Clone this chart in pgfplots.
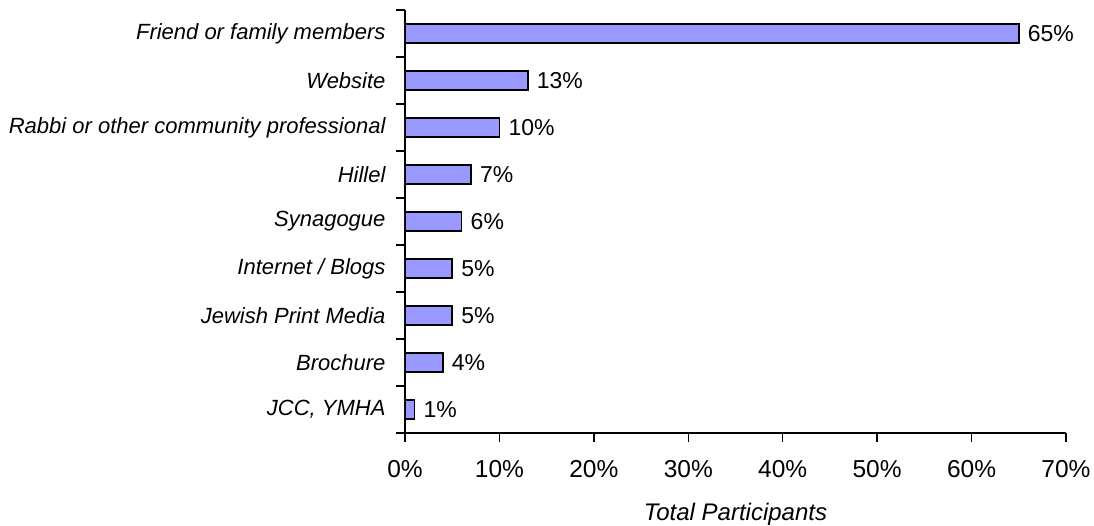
\documentclass[border=0pt]{standalone}
\usepackage{fontspec}
\setmainfont{Liberation Sans}
\usepackage{pgfplots}
\pgfplotsset{compat=1.18}
\definecolor{barblue}{HTML}{9999FF}
\begin{document}
\begin{tikzpicture}
\begin{axis}[
  scale only axis, width=661pt, height=423pt,
  xbar, bar width=19pt,
  xmin=0, xmax=70, ymin=-0.5, ymax=8.5,
  axis x line*=bottom, axis y line*=left,
  axis line style={line width=1.5pt, -},
  tick align=outside,
  major tick length=9pt,
  tick style={line width=1.5pt, black},
  xtick={0,10,...,70},
  xticklabel={\pgfmathprintnumber{\tick}\%},
  /pgf/number format/assume math mode=true,
  xticklabel style={font=\fontsize{24.5}{28}\selectfont, yshift=-15pt},
  ytick={-0.5,0.5,...,8.5},
  yticklabels={{JCC, YMHA},Brochure,Jewish Print Media,Internet / Blogs,Synagogue,Hillel,Rabbi or other community professional,Website,Friend or family members,{}},
  yticklabel style={font=\fontsize{22}{26}\selectfont\itshape, yshift=23.5pt, xshift=-7pt},
  xlabel={Total Participants},
  xlabel style={font=\fontsize{24}{28}\selectfont\itshape, yshift=-18pt},
  point meta=x,
  nodes near coords={\pgfmathprintnumber{\pgfplotspointmeta}\%},
  nodes near coords style={font=\fontsize{23}{27}\selectfont, anchor=west, black, xshift=5pt},
]
\addplot[fill=barblue, draw=black, line width=1.5pt] coordinates {
  (1,0) (4,1) (5,2) (5,3) (6,4) (7,5) (10,6) (13,7) (65,8)
};
\end{axis}
\pgfresetboundingbox
\path ([xshift=-405pt,yshift=-92pt]current axis.south west) rectangle ([xshift=689pt,yshift=433pt]current axis.south west);
\end{tikzpicture}
\end{document}
